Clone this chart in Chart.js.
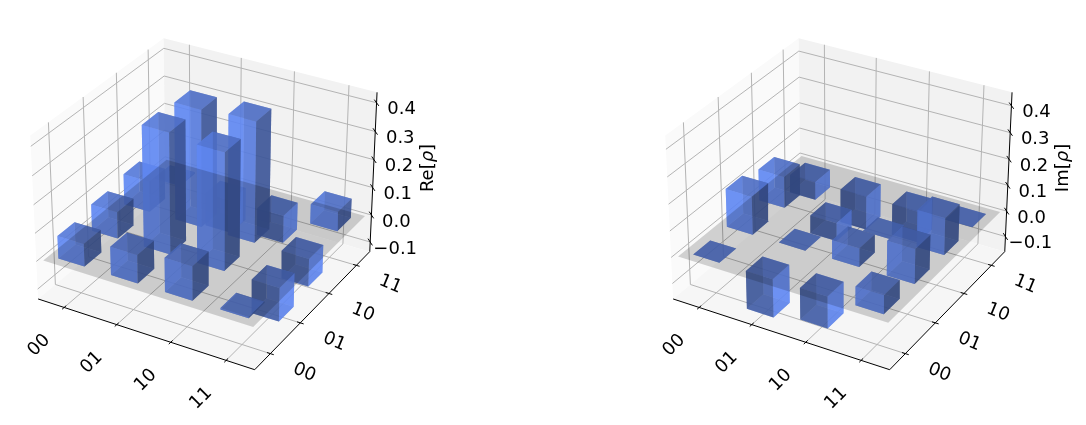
<!DOCTYPE html>
<html>
<head>
<meta charset="utf-8">
<script src="https://cdn.jsdelivr.net/npm/chart.js@4"></script>
<style>
  html, body { margin: 0; padding: 0; background: #fff; overflow: hidden; }
  #wrap { display: flex; width: 1086px; height: 425px; }
  canvas { display: block; }
</style>
</head>
<body>
<div id="wrap">
  <canvas id="reChart" width="543" height="425"></canvas>
  <canvas id="imChart" width="543" height="425"></canvas>
</div>
<script>
// basis states on both floor axes
const basisLabels = ["00", "01", "10", "11"];
const zTicks = [-0.1, 0, 0.1, 0.2, 0.3, 0.4];

// each row is one y basis state, columns follow the x basis state
const reRow00 = [0.08, 0.10, 0.12, 0.005];
const reRow01 = [0.095, 0.425, 0.41, -0.12];
const reRow10 = [0.11, 0.415, 0.425, -0.10];
const reRow11 = [0.005, -0.12, -0.10, 0.07];

const imRow00 = [0, -0.145, -0.12, 0.07];
const imRow01 = [0.145, 0, 0.07, 0.13];
const imRow10 = [0.12, -0.07, 0, 0.14];
const imRow11 = [-0.07, -0.13, -0.12, 0];

// mplot3d style camera, elev 30 azim -60
const BOX_W = 1.19, BOX_H = 0.893, DIST = 10, ZOOM = 2085;
const E = [0.433, -0.75, 0.5];
const U = [0.866, 0.5, 0];
const V = [-0.25, 0.433, 0.866];
const XY_MIN = -0.005, XY_MAX = 4.005;
const BAR_COLOR = [100, 143, 255];
const BAR_ALPHA = 0.7;
const GRID = "#b4b4b4";
const FONT = "18px 'DejaVu Sans'";

function dot(a, b) { return a[0] * b[0] + a[1] * b[1] + a[2] * b[2]; }

function makeCamera(originX, originY, zMin, zMax) {
  function toBox(p) {
    return [
      ((p[0] - XY_MIN) / (XY_MAX - XY_MIN) - 0.5) * BOX_W,
      ((p[1] - XY_MIN) / (XY_MAX - XY_MIN) - 0.5) * BOX_W,
      ((p[2] - zMin) / (zMax - zMin) - 0.5) * BOX_H,
    ];
  }
  return {
    project(p) {
      const q = toBox(p);
      const depth = DIST - dot(E, q);
      return { x: originX + ZOOM * dot(U, q) / depth, y: originY - ZOOM * dot(V, q) / depth };
    },
    depth(p) { return DIST - dot(E, toBox(p)); },
  };
}

function shadeColor(level, alpha) {
  const c = BAR_COLOR.map((v) => Math.round(v * level));
  return `rgba(${c[0]},${c[1]},${c[2]},${alpha})`;
}

function barFaces(ix, iy, value) {
  const x0 = ix + 0.25, x1 = ix + 0.75, y0 = iy + 0.25, y1 = iy + 0.75;
  // side normals flip when a bar hangs below zero
  const lit = value >= 0 ? 0.95 : 0.6;
  const dim = value >= 0 ? 0.6 : 0.95;
  return [
    { pts: [[x0, y0, 0], [x1, y0, 0], [x1, y1, 0], [x0, y1, 0]], level: 0.7 },
    { pts: [[x0, y0, value], [x1, y0, value], [x1, y1, value], [x0, y1, value]], level: 0.82 },
    { pts: [[x0, y0, 0], [x1, y0, 0], [x1, y0, value], [x0, y0, value]], level: lit },
    { pts: [[x0, y0, 0], [x0, y1, 0], [x0, y1, value], [x0, y0, value]], level: lit },
    { pts: [[x1, y0, 0], [x1, y1, 0], [x1, y1, value], [x1, y0, value]], level: dim },
    { pts: [[x0, y1, 0], [x1, y1, 0], [x1, y1, value], [x0, y1, value]], level: dim },
  ];
}

function buildDatasets(cam, rows, zMin, zMax) {
  const out = [];
  const poly = (pts, color) => {
    const data = pts.concat([pts[0]]).map(cam.project);
    out.push({ data, showLine: true, fill: "shape", backgroundColor: color, borderWidth: 0, borderColor: color, pointRadius: 0 });
  };
  const line = (pts, color, width) => {
    out.push({ data: pts.map(cam.project), showLine: true, fill: false, borderColor: color, borderWidth: width, pointRadius: 0 });
  };

  // panes
  poly([[XY_MIN, XY_MIN, zMin], [XY_MIN, XY_MAX, zMin], [XY_MIN, XY_MAX, zMax], [XY_MIN, XY_MIN, zMax]], "#fafafa");
  poly([[XY_MIN, XY_MAX, zMin], [XY_MAX, XY_MAX, zMin], [XY_MAX, XY_MAX, zMax], [XY_MIN, XY_MAX, zMax]], "#f2f2f2");
  poly([[XY_MIN, XY_MIN, zMin], [XY_MAX, XY_MIN, zMin], [XY_MAX, XY_MAX, zMin], [XY_MIN, XY_MAX, zMin]], "#f6f6f6");

  // grid
  basisLabels.forEach((_, i) => {
    const t = i + 0.5;
    line([[t, XY_MIN, zMin], [t, XY_MAX, zMin], [t, XY_MAX, zMax]], GRID, 1);
    line([[XY_MAX, t, zMin], [XY_MIN, t, zMin], [XY_MIN, t, zMax]], GRID, 1);
  });
  zTicks.forEach((t) => {
    line([[XY_MIN, XY_MIN, t], [XY_MIN, XY_MAX, t], [XY_MAX, XY_MAX, t]], GRID, 1);
  });

  // axis lines and tick marks
  line([[XY_MIN, XY_MIN, zMin], [XY_MAX, XY_MIN, zMin], [XY_MAX, XY_MAX, zMin], [XY_MAX, XY_MAX, zMax]], "#000", 1);
  basisLabels.forEach((_, i) => {
    const t = i + 0.5;
    line([[t, XY_MIN - 0.06, zMin], [t, XY_MIN + 0.06, zMin]], "#000", 1);
    line([[XY_MAX + 0.06, t, zMin], [XY_MAX - 0.06, t, zMin]], "#000", 1);
  });
  zTicks.forEach((t) => {
    line([[XY_MAX - 0.08, XY_MAX + 0.08, t], [XY_MAX + 0.08, XY_MAX - 0.08, t]], "#000", 1);
  });

  // bars, then the zero plane over all of them like in the original
  const bars = [];
  rows.forEach((row, iy) => row.forEach((value, ix) => bars.push({ ix, iy, value })));
  const byDepth = (a, b) =>
    cam.depth([b.ix + 0.5, b.iy + 0.5, 0]) - cam.depth([a.ix + 0.5, a.iy + 0.5, 0]);
  const drawBars = (list) => {
    list.sort(byDepth).forEach((b) => {
      const faces = barFaces(b.ix, b.iy, b.value);
      const faceDepth = (f) => f.pts.reduce((s, p) => s + cam.depth(p), 0) / f.pts.length;
      faces.sort((f, g) => faceDepth(g) - faceDepth(f));
      faces.forEach((f) => poly(f.pts, shadeColor(f.level, BAR_ALPHA)));
    });
  };
  drawBars(bars.filter((b) => b.value < 0));
  drawBars(bars.filter((b) => b.value >= 0));
  poly([[0.075, 0.075, 0], [3.925, 0.075, 0], [3.925, 3.925, 0], [0.075, 3.925, 0]], "rgba(0,0,0,0.17)");

  // Chart.js paints higher order first
  out.forEach((d, i) => { d.order = out.length - i; d.clip = false; });
  return out;
}

function axisText(cam, zMin, zLabelX, zLabel) {
  return {
    id: "axisText",
    afterDatasetsDraw(chart) {
      const ctx = chart.ctx;
      const put = (text, x, y, angle) => {
        ctx.save();
        ctx.translate(x, y);
        ctx.rotate(angle);
        ctx.font = FONT;
        ctx.fillStyle = "#000";
        ctx.textAlign = "center";
        ctx.textBaseline = "middle";
        ctx.fillText(text, 0, 0);
        ctx.restore();
      };
      basisLabels.forEach((label, i) => {
        const xt = cam.project([i + 0.5, XY_MIN, zMin]);
        put(label, xt.x - 25, xt.y + 38, -Math.PI / 4);
        const yt = cam.project([XY_MAX, i + 0.5, zMin]);
        put(label, yt.x + 34, yt.y + 19, Math.PI / 8);
      });
      zTicks.forEach((t) => {
        const p = cam.project([XY_MAX, XY_MAX, t]);
        const text = t < 0 ? "\u2212" + Math.abs(t).toFixed(1) : t.toFixed(1);
        put(text, p.x + 25, p.y + 7, 0);
      });

      // z label with an italic rho, like mathtext
      ctx.save();
      ctx.translate(zLabelX, 168);
      ctx.rotate(-Math.PI / 2);
      ctx.fillStyle = "#000";
      ctx.textBaseline = "middle";
      ctx.textAlign = "left";
      const parts = [[zLabel + "[", FONT], ["\u03c1", "italic " + FONT], ["]", FONT]];
      const widths = parts.map((p) => { ctx.font = p[1]; return ctx.measureText(p[0]).width; });
      let x = -widths.reduce((a, b) => a + b, 0) / 2;
      parts.forEach((p, i) => {
        ctx.font = p[1];
        ctx.fillText(p[0], x, 0);
        x += widths[i];
      });
      ctx.restore();
    },
  };
}

function drawPanel(canvasId, rows, originX, zMin, zMax, zLabelX, zLabel) {
  const cam = makeCamera(originX, 196, zMin, zMax);
  const canvas = document.getElementById(canvasId);
  return new Chart(canvas.getContext("2d"), {
    type: "scatter",
    data: { datasets: buildDatasets(cam, rows, zMin, zMax) },
    options: {
      responsive: false,
      animation: false,
      devicePixelRatio: 1,
      layout: { padding: 0 },
      elements: { line: { tension: 0 } },
      plugins: { legend: { display: false }, tooltip: { enabled: false } },
      scales: {
        x: { type: "linear", display: false, min: 0, max: canvas.width },
        y: { type: "linear", display: false, reverse: true, min: 0, max: canvas.height },
      },
    },
    plugins: [axisText(cam, zMin, zLabelX, zLabel)],
  });
}

drawPanel("reChart", [reRow00, reRow01, reRow10, reRow11], 207, -0.136, 0.436, 428, "Re");
drawPanel("imChart", [imRow00, imRow01, imRow10, imRow11], 299, -0.16, 0.449, 520, "Im");
</script>
</body>
</html>
